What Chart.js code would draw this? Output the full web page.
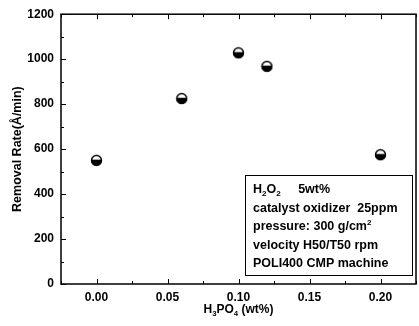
<!DOCTYPE html>
<html>
<head>
<meta charset="utf-8">
<script src="https://cdn.jsdelivr.net/npm/chart.js@4/dist/chart.umd.min.js"></script>
<style>
  html, body { margin: 0; padding: 0; background: #fff; overflow: hidden; }
  #wrap { width: 423px; height: 326px; }
</style>
</head>
<body>
<div id="wrap"><canvas id="chart" width="423" height="326"></canvas></div>
<script>
// data
const h3po4 = [0.00, 0.06, 0.10, 0.12, 0.20];
const removalRate = [550, 825, 1028, 968, 575];
const xTickValues = [0.00, 0.05, 0.10, 0.15, 0.20];
const yTickValues = [0, 200, 400, 600, 800, 1000, 1200];
const noteLines = [
  [['H', ''], ['2', 'sub'], ['O', ''], ['2', 'sub'], ['     5wt%', '']],
  [['catalyst oxidizer  25ppm', '']],
  [['pressure: 300 g/cm', ''], ['2', 'sup']],
  [['velocity H50/T50 rpm', '']],
  [['POLI400 CMP machine', '']]
];

const FONT = '"Liberation Sans", Arial, sans-serif';

// half white / half black circle marker
function makeMarker() {
  const c = document.createElement('canvas');
  c.width = 13; c.height = 13;
  const g = c.getContext('2d');
  g.beginPath();
  g.arc(6.5, 6.5, 5.5, 0, 2 * Math.PI);
  g.fillStyle = '#fff';
  g.fill();
  g.beginPath();
  g.arc(6.5, 6.5, 5.5, -0.15, Math.PI + 0.15);
  g.closePath();
  g.fillStyle = '#000';
  g.fill();
  g.beginPath();
  g.arc(6.5, 6.5, 5, 0, 2 * Math.PI);
  g.lineWidth = 1.4;
  g.strokeStyle = '#000';
  g.stroke();
  return c;
}

function drawRich(ctx, parts, x, y, size) {
  let cx = x;
  parts.forEach(([txt, kind]) => {
    let fs = size, dy = 0;
    if (kind === 'sub') { fs = size * 0.65; dy = 3; }
    if (kind === 'sup') { fs = size * 0.65; dy = -5; }
    ctx.font = 'bold ' + fs + 'px ' + FONT;
    ctx.fillText(txt, cx, y + dy);
    cx += ctx.measureText(txt).width;
  });
  return cx - x;
}

// frame + inward tick marks, note box, x title with subscripts
const framePlugin = {
  id: 'frame',
  afterDraw(chart) {
    const ctx = chart.ctx;
    const a = chart.chartArea;
    const xs = chart.scales.x, ys = chart.scales.y;
    ctx.save();
    ctx.strokeStyle = '#000';
    ctx.lineWidth = 1.5;
    ctx.strokeRect(a.left, a.top, a.right - a.left, a.bottom - a.top);

    ctx.lineWidth = 1;
    for (let i = -1; i <= 9; i++) {
      const v = i * 0.025;
      const px = Math.round(xs.getPixelForValue(v)) + 0.5;
      const len = i % 2 === 0 ? 5 : 3;
      ctx.beginPath();
      ctx.moveTo(px, a.bottom); ctx.lineTo(px, a.bottom - len);
      ctx.moveTo(px, a.top); ctx.lineTo(px, a.top + len);
      ctx.stroke();
    }
    for (let v = 0; v <= 1200; v += 100) {
      const py = Math.round(ys.getPixelForValue(v)) + 0.5;
      const len = v % 200 === 0 ? 5 : 3;
      ctx.beginPath();
      ctx.moveTo(a.left, py); ctx.lineTo(a.left + len, py);
      ctx.stroke();
    }

    // note box
    const bx = 245, by = 175, bw = 167, bh = 100;
    ctx.fillStyle = '#fff';
    ctx.fillRect(bx, by, bw, bh);
    ctx.lineWidth = 1;
    ctx.strokeRect(bx + 0.5, by + 0.5, bw, bh);
    ctx.fillStyle = '#000';
    ctx.textBaseline = 'alphabetic';
    ctx.textAlign = 'left';
    noteLines.forEach((parts, i) => {
      drawRich(ctx, parts, bx + 8, by + 18 + i * 18.5, 12.5);
    });

    // x axis title
    const title = [['H', ''], ['3', 'sub'], ['PO', ''], ['4', 'sub'], [' (wt%)', '']];
    ctx.fillStyle = 'rgba(0,0,0,0)';
    const w = drawRich(ctx, title, 0, -50, 12);
    ctx.fillStyle = '#000';
    drawRich(ctx, title, xs.getPixelForValue(0.1) - w / 2, 313, 12);
    ctx.restore();
  }
};

new Chart(document.getElementById('chart'), {
  type: 'scatter',
  data: {
    datasets: [{
      data: h3po4.map((x, i) => ({ x: x, y: removalRate[i] })),
      pointStyle: makeMarker(),
      pointRadius: 6,
      showLine: false
    }]
  },
  options: {
    responsive: false,
    animation: false,
    layout: { padding: { top: 7, right: 2, left: 0, bottom: 0 } },
    plugins: { legend: { display: false }, tooltip: { enabled: false } },
    scales: {
      x: {
        type: 'linear',
        min: -0.025,
        max: 0.225,
        afterBuildTicks: s => { s.ticks = xTickValues.map(v => ({ value: v })); },
        afterFit: s => { s.height = 42; },
        grid: { display: false, drawTicks: false },
        border: { display: false },
        ticks: {
          color: '#000',
          padding: 6,
          maxRotation: 0,
          font: { family: FONT, size: 12, weight: 'bold' },
          callback: v => v.toFixed(2)
        }
      },
      y: {
        min: 0,
        max: 1200,
        afterBuildTicks: s => { s.ticks = yTickValues.map(v => ({ value: v })); },
        afterFit: s => { s.width = 61; },
        grid: { display: false, drawTicks: false },
        border: { display: false },
        title: {
          display: true,
          text: 'Removal Rate(Å/min)',
          color: '#000',
          font: { family: FONT, size: 12.5, weight: 'bold' },
          padding: { top: 10, bottom: 4 }
        },
        ticks: {
          color: '#000',
          padding: 7,
          font: { family: FONT, size: 12, weight: 'bold' },
          callback: v => String(v)
        }
      }
    }
  },
  plugins: [framePlugin]
});
</script>
</body>
</html>
